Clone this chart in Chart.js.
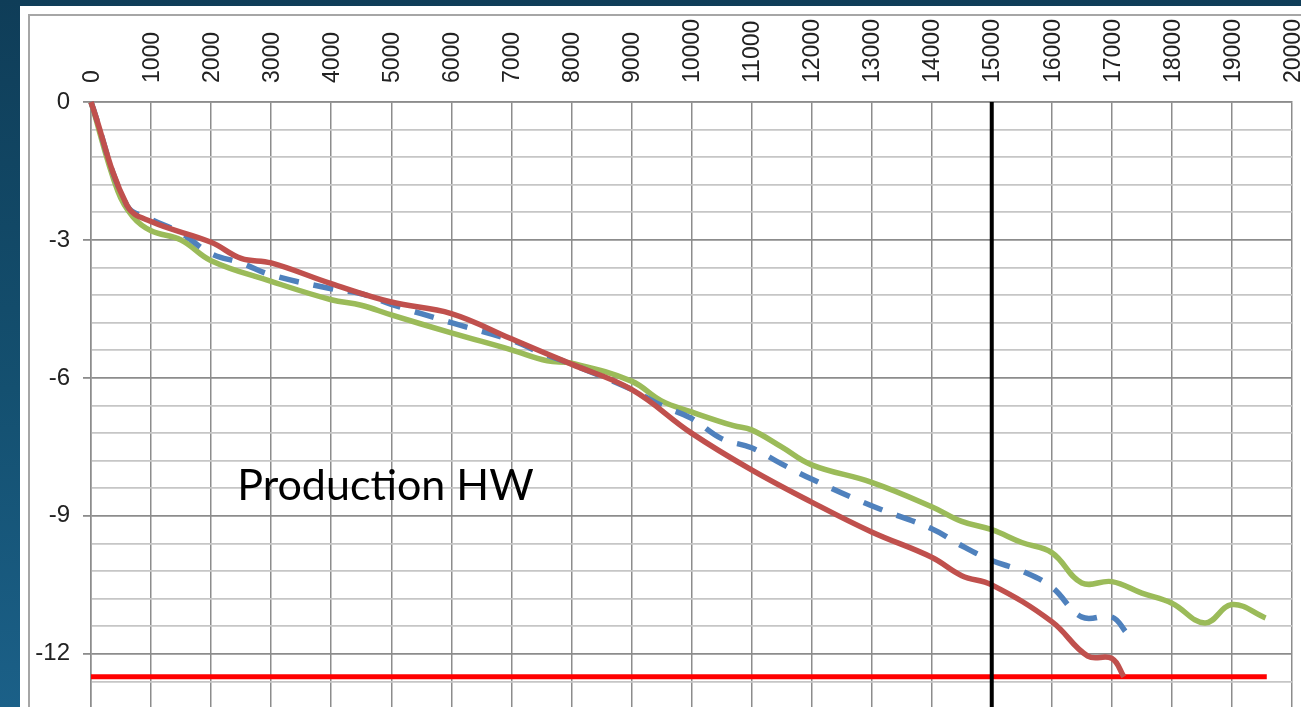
<!DOCTYPE html>
<html>
<head>
<meta charset="utf-8">
<script src="https://cdn.jsdelivr.net/npm/chart.js@4.4.1/dist/chart.umd.min.js"></script>
<style>
  html, body { margin: 0; padding: 0; }
  body {
    width: 1301px; height: 707px; overflow: hidden; position: relative;
    background: linear-gradient(to bottom, #0f3d58 0%, #145070 55%, #1b6088 100%);
  }
  #panel { position: absolute; left: 20px; top: 6px; width: 1281px; height: 720px; background: #fff; }
  #frame { position: absolute; left: 8px; top: 8px; width: 1290px; height: 720px;
           border-left: 2px solid #a6a6a6; border-top: 2px solid #a6a6a6; }
  #wrap { position: absolute; left: 28px; top: 14px; width: 1273px; height: 700px; }
</style>
</head>
<body>
<div id="panel"><div id="frame"></div></div>
<div id="wrap"><canvas id="chart"></canvas></div>
<script>
// depth (x) vs value (y)
const redX   = [0, 600, 1000, 2000, 2500, 3000, 4000, 5000, 6000, 7000, 8000, 9000, 10000, 11000, 12000, 13000, 14000, 14500, 15000, 16000, 16600, 17000, 17200];
const redY   = [0, -2.25, -2.6, -3.05, -3.4, -3.5, -3.95, -4.35, -4.6, -5.15, -5.7, -6.25, -7.2, -8.0, -8.7, -9.35, -9.9, -10.3, -10.5, -11.3, -12.05, -12.1, -12.5];

const greenX = [0, 450, 700, 1000, 1500, 2000, 3000, 4000, 4500, 5000, 6000, 7000, 7600, 8000, 9000, 9500, 10000, 10700, 11000, 11500, 12000, 13000, 14000, 14500, 15000, 15500, 16000, 16500, 17000, 17500, 18000, 18550, 19000, 19560];
const greenY = [0, -1.95, -2.5, -2.8, -3.0, -3.45, -3.9, -4.3, -4.42, -4.63, -5.02, -5.39, -5.63, -5.68, -6.07, -6.5, -6.74, -7.04, -7.13, -7.5, -7.89, -8.27, -8.8, -9.12, -9.3, -9.58, -9.8, -10.46, -10.43, -10.68, -10.9, -11.33, -10.93, -11.22];

const blueX  = [0, 600, 1000, 1500, 2000, 2500, 3000, 4000, 4500, 5000, 6000, 7000, 7500, 8000, 9000, 9500, 10000, 10500, 11000, 11500, 12000, 13000, 14000, 14500, 15000, 15500, 16000, 16500, 17000, 17250];
const blueY  = [0, -2.25, -2.55, -2.85, -3.3, -3.5, -3.76, -4.06, -4.17, -4.4, -4.8, -5.18, -5.46, -5.7, -6.25, -6.6, -6.88, -7.32, -7.52, -7.87, -8.2, -8.78, -9.28, -9.65, -9.97, -10.2, -10.55, -11.2, -11.2, -11.55];

const limitX = [0, 19580];
const limitY = [-12.5, -12.5];
const markerX = [15000, 15000];
const markerY = [0, -13.2];

const xMin = 0, xMax = 20000, xStep = 1000;
const yMin = -13.2, yMax = 0, yStep = 0.6, yLabelEvery = 3;

const noteText = 'Production HW';
const noteX = 2436, noteY = -8.65;

function pts(xs, ys) {
  return xs.map((x, i) => ({ x: x, y: ys[i] }));
}

function isMajor(v) {
  return Math.round(v * 10) % (yLabelEvery * 10) === 0;
}

const notePlugin = {
  id: 'note',
  afterDatasetsDraw(chart) {
    const ctx = chart.ctx;
    const x = chart.scales.x, y = chart.scales.y;
    ctx.save();
    ctx.font = '43px Lato';
    ctx.fillStyle = '#000';
    ctx.textBaseline = 'alphabetic';
    ctx.fillText(noteText, x.getPixelForValue(noteX), y.getPixelForValue(noteY));
    ctx.restore();
  }
};

new Chart(document.getElementById('chart'), {
  type: 'line',
  data: {
    datasets: [
      { data: pts(markerX, markerY), borderColor: '#000', borderWidth: 4, tension: 0, order: 0 },
      { data: pts(redX, redY), borderColor: '#c0504d', borderWidth: 5.5, tension: 0.4, order: 1 },
      { data: pts(blueX, blueY), borderColor: '#4f81bd', borderWidth: 5.5, borderDash: [20, 15], tension: 0.4, order: 2 },
      { data: pts(greenX, greenY), borderColor: '#9bbb59', borderWidth: 5.5, tension: 0.4, order: 3 },
      { data: pts(limitX, limitY), borderColor: '#ff0000', borderWidth: 5, tension: 0, order: 4 }
    ]
  },
  options: {
    responsive: true,
    maintainAspectRatio: false,
    animation: false,
    layout: { padding: { left: 0, right: 9, top: 0, bottom: 5 } },
    elements: { point: { radius: 0, hoverRadius: 0 }, line: { borderCapStyle: 'butt', fill: false } },
    datasets: { line: { clip: false } },
    plugins: { legend: { display: false }, tooltip: { enabled: false } },
    scales: {
      x: {
        type: 'linear',
        position: 'top',
        min: xMin, max: xMax,
        afterFit(s) { s.height = 88; s.paddingLeft = 0; s.paddingRight = 0; },
        ticks: {
          stepSize: xStep, minRotation: 90, maxRotation: 90, padding: 19, labelOffset: 29,
          color: '#222', font: { family: 'Liberation Sans', size: 23 },
          callback: v => String(v)
        },
        grid: { color: '#8c8c8c', lineWidth: 1.5, drawTicks: false },
        border: { display: true, color: '#8c8c8c', width: 1.5 }
      },
      y: {
        type: 'linear',
        min: yMin, max: yMax,
        afterFit(s) { s.width = 63; s.paddingTop = 0; s.paddingBottom = 0; },
        ticks: {
          stepSize: yStep, padding: 13, autoSkip: false,
          color: '#222', font: { family: 'Liberation Sans', size: 24 },
          callback: v => isMajor(v) ? String(Math.round(v)) : ''
        },
        grid: {
          color: c => isMajor(c.tick.value) ? '#8c8c8c' : '#c6c6c6',
          lineWidth: 1.8,
          tickLength: 8,
          tickColor: c => isMajor(c.tick.value) ? '#8c8c8c' : 'rgba(0,0,0,0)'
        },
        border: { display: true, color: '#8c8c8c', width: 1.5 }
      }
    }
  },
  plugins: [notePlugin]
});
</script>
</body>
</html>
